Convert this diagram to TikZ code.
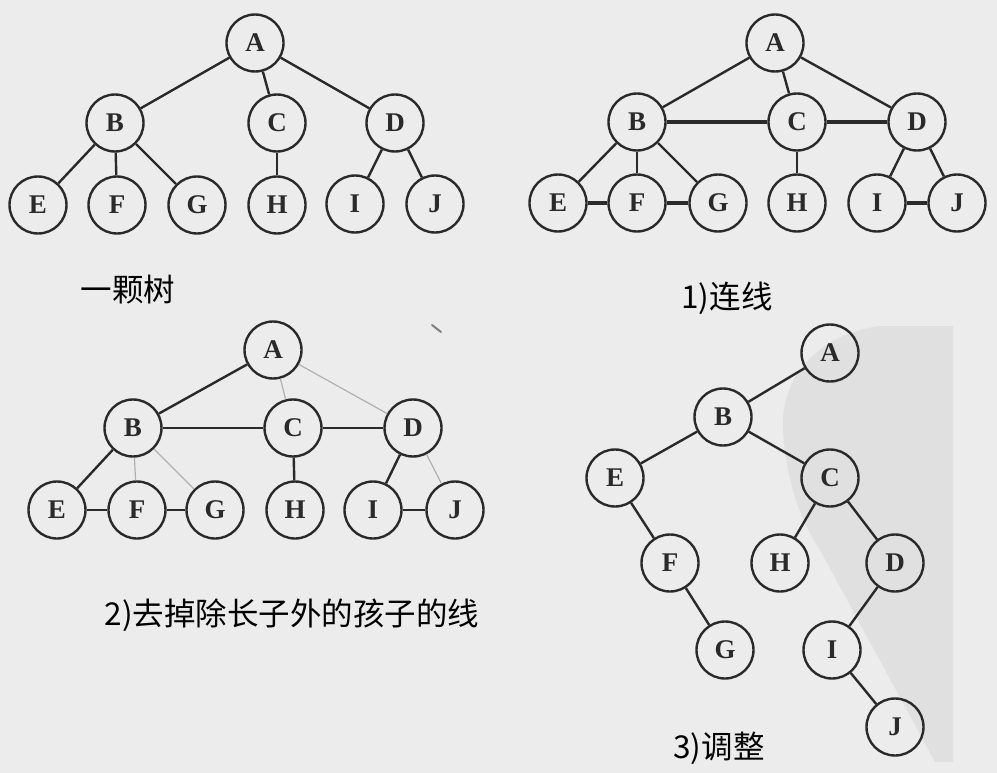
\documentclass[tikz,border=0pt]{standalone}
\usepackage{fontspec}
\setmainfont{Liberation Serif}
\newfontfamily\cjkfont{Noto Sans CJK SC}
\usetikzlibrary{positioning}
\definecolor{paper}{HTML}{ECECEC}
\definecolor{inkgray}{HTML}{2A2A2A}
\definecolor{fadegray}{HTML}{B0B0B0}
\definecolor{markgray}{HTML}{E0E0E0}
\tikzset{
  vertex/.style={circle,draw=inkgray,line width=2.4pt,minimum size=57pt,inner sep=0pt,
    font=\fontsize{27}{27}\selectfont\bfseries,text=inkgray},
  edge/.style={line width=2.4pt,draw=inkgray},
  boldedge/.style={line width=4.2pt,draw=inkgray},
  fadeedge/.style={line width=1.2pt,draw=fadegray},
  caption/.style={font=\cjkfont\fontsize{31.5}{31.5}\selectfont,text=black,inner sep=0pt}
}

\begin{document}
\begin{tikzpicture}[x=1pt,y=-1pt]
  \fill[paper] (0,0) rectangle (997,773);
  \useasboundingbox (0,0) rectangle (997,773);
  % watermark behind the last tree
  \fill[markgray] (953,326) -- (880,326) .. controls (815,335) and (780,380) .. (783,430)
    .. controls (786,480) and (800,520) .. (820,550) -- (935,762) -- (953,762) -- cycle;
  \draw[line width=2pt,inkgray!60,line cap=round] (432,325) -- (441,332);

  % a tree
  \foreach \n/\x/\y in {A/255/43,B/115/123,C/277/123,D/395/123,E/38/205,F/117/205,G/197/205,H/277/205,I/355/204,J/435/204}{
    \node[vertex] (tree\n) at (\x,\y) {\n};
  }
  \foreach \u/\v in {A/B,A/C,A/D,B/E,B/F,B/G,C/H,D/I,D/J}{\draw[edge] (tree\u) -- (tree\v);}
  \node[caption] (treecap) at (128,290) {一颗树};

  % 1) link the siblings
  \foreach \n/\x/\y in {A/775/43,B/637/122,C/797/122,D/917/122,E/558/203,F/637/203,G/718/203,H/797/203,I/877/203,J/957/203}{
    \node[vertex] (link\n) at (\x,\y) {\n};
  }
  \foreach \u/\v in {A/B,A/C,A/D,B/E,B/F,B/G,C/H,D/I,D/J}{\draw[edge] (link\u) -- (link\v);}
  \foreach \u/\v in {B/C,C/D,E/F,F/G,I/J}{\draw[boldedge] (link\u) -- (link\v);}
  \node[caption] (linkcap) at (727,298) {1)连线};

  % 2) drop the other child lines
  \foreach \n/\x/\y in {A/273/350,B/133/428,C/293/428,D/413/428,E/57/510,F/137/510,G/215/510,H/295/510,I/373/510,J/455/510}{
    \node[vertex] (prune\n) at (\x,\y) {\n};
  }
  \foreach \u/\v in {A/B,B/C,C/D,B/E,C/H,D/I,E/F,F/G,I/J}{\draw[edge] (prune\u) -- (prune\v);}
  \foreach \u/\v in {A/C,A/D,B/F,B/G,D/J}{\draw[fadeedge] (prune\u) -- (prune\v);}
  \node[caption] (prunecap) at (292,615) {2)去掉除长子外的孩子的线};

  % 3) turn it into a binary tree
  \foreach \n/\x/\y in {A/830/353,B/723/417,C/830/478,E/615/478,F/670/563,H/780/563,D/895/563,G/725/650,I/832/650,J/895/727}{
    \node[vertex] (turn\n) at (\x,\y) {\n};
  }
  \foreach \u/\v in {A/B,B/E,B/C,E/F,F/G,C/H,C/D,D/I,I/J}{\draw[edge] (turn\u) -- (turn\v);}
  \node[caption] (turncap) at (719,748) {3)调整};
\end{tikzpicture}
\end{document}
